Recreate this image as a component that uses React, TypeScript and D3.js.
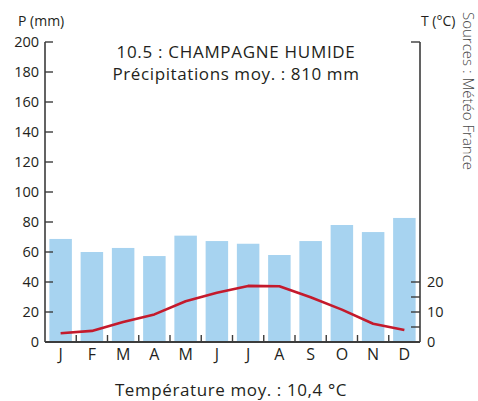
import { useEffect } from 'react';
import * as d3 from 'd3';

const months = ['J', 'F', 'M', 'A', 'M', 'J', 'J', 'A', 'S', 'O', 'N', 'D'];
const precip = [68.7, 60, 62.7, 57.3, 70.9, 67.3, 65.5, 58, 67.3, 78, 73.3, 82.7];
const temp = [2.9, 3.7, 6.7, 9.2, 13.6, 16.4, 18.7, 18.6, 14.9, 10.8, 6.1, 4.0];
const pTicks = [0, 20, 40, 60, 80, 100, 120, 140, 160, 180, 200];
const tTicks = [0, 5, 10, 15, 20];
const tLabels = [0, 10, 20];

const W = 478;
const H = 401;
const margin = { top: 42, right: 58, bottom: 59, left: 45 };
const FONT = '"Open Sans", "Noto Sans", sans-serif';
const INK = '#231f20';
const AXIS = '#3c3c3c';

export default function App() {
  useEffect(() => {
    document.body.style.margin = '0';
  }, []);

  const innerW = W - margin.left - margin.right;
  const innerH = H - margin.top - margin.bottom;

  const x = d3.scaleBand<number>().domain(d3.range(12)).range([0, innerW]).paddingInner(0.28).paddingOuter(0.14);
  const xb = d3.scaleBand<number>().domain(d3.range(12)).range([0, innerW]);
  const yP = d3.scaleLinear().domain([0, 200]).range([innerH, 0]);
  const yT = d3.scaleLinear().domain([0, 100]).range([innerH, 0]);

  const line = d3
    .line<number>()
    .x((_, i) => (xb(i) ?? 0) + xb.bandwidth() / 2)
    .y((d) => yT(d));

  return (
    <svg width={W} height={H} style={{ display: 'block', fontFamily: FONT }}>
      <text x={18} y={26} fontSize={14} fill={INK}>P (mm)</text>
      <text x={421} y={26} fontSize={14} fill={INK}>T (°C)</text>
      <text
        transform={`translate(463,12) rotate(90)`}
        fontSize={15}
        fill="#4a4a4a"
        fontWeight={300}
      >
        Sources : Météo France
      </text>
      <text x={236} y={58} textAnchor="middle" fontSize={17} letterSpacing={0.7} fill={INK}>10.5 : CHAMPAGNE HUMIDE</text>
      <text x={236} y={80} textAnchor="middle" fontSize={17} letterSpacing={0.6} fill={INK}>Précipitations moy. : 810 mm</text>
      <text x={231} y={396} textAnchor="middle" fontSize={17} letterSpacing={0.6} fill={INK}>Température moy. : 10,4 °C</text>

      <g transform={`translate(${margin.left},${margin.top})`}>
        {precip.map((v, i) => (
          <rect key={i} x={x(i)} y={yP(v)} width={x.bandwidth()} height={innerH - yP(v)} fill="#a7d3f0" />
        ))}
        <path d={line(temp) ?? ''} fill="none" stroke="#c41a2c" strokeWidth={2.6} strokeLinejoin="round" />

        {/* left axis */}
        <line x1={0} x2={0} y1={0} y2={innerH} stroke={AXIS} strokeWidth={1.6} />
        {pTicks.map((t) => (
          <g key={t} transform={`translate(0,${yP(t)})`}>
            <line x1={0} x2={8} stroke={AXIS} strokeWidth={1.4} />
            <text x={-6} dy="0.36em" textAnchor="end" fontSize={14.5} fill={INK}>{t}</text>
          </g>
        ))}

        {/* right axis */}
        <line x1={innerW} x2={innerW} y1={0} y2={innerH} stroke={AXIS} strokeWidth={1.6} />
        <line x1={innerW - 9} x2={innerW} y1={0} y2={0} stroke={AXIS} strokeWidth={1.4} />
        {tTicks.map((t) => (
          <line key={t} x1={innerW - 9} x2={innerW} y1={yT(t)} y2={yT(t)} stroke={AXIS} strokeWidth={1.4} />
        ))}
        {tLabels.map((t) => (
          <text key={t} x={innerW + 7} y={yT(t)} dy="0.36em" fontSize={14.5} fill={INK}>{t}</text>
        ))}

        {/* bottom axis */}
        <line x1={0} x2={innerW} y1={innerH} y2={innerH} stroke={AXIS} strokeWidth={1.8} />
        {d3.range(1, 12).map((i) => (
          <line key={i} x1={xb(i)} x2={xb(i)} y1={innerH - 7} y2={innerH} stroke={AXIS} strokeWidth={1.4} />
        ))}
        {months.map((m, i) => (
          <text key={i} x={(xb(i) ?? 0) + xb.bandwidth() / 2} y={innerH + 18} textAnchor="middle" fontSize={16} fill={INK}>
            {m}
          </text>
        ))}
      </g>
    </svg>
  );
}
